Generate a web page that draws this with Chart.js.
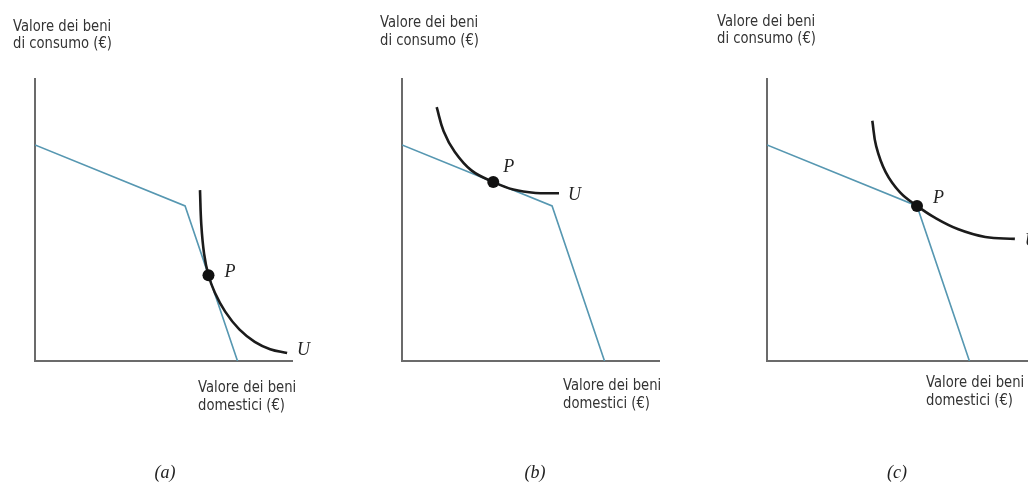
<!DOCTYPE html>
<html lang="it">
<head>
<meta charset="utf-8">
<title>Frontiera e curve di indifferenza</title>
<script src="https://cdn.jsdelivr.net/npm/chart.js@4.4.1/dist/chart.umd.min.js"></script>
<style>
  html, body { margin: 0; padding: 0; background: #fff; overflow: hidden; }
  #wrap { position: relative; width: 1028px; height: 484px; overflow: hidden; }
  canvas { position: absolute; top: 0; }
</style>
</head>
<body>
<div id="wrap">
  <canvas id="chartA" width="340" height="484" style="left:0px"></canvas>
  <canvas id="chartB" width="340" height="484" style="left:360px"></canvas>
  <canvas id="chartC" width="340" height="484" style="left:700px"></canvas>
</div>
<script>
// Frontiera delle possibilità di produzione (uguale nei tre riquadri)
const frontierX = [0, 5.84, 7.88];
const frontierY = [7.66, 5.50, 0];

// Curve di indifferenza U, una per riquadro
const curveAX = [6.42, 6.47, 6.58, 6.75, 7.00, 7.40, 7.95, 8.55, 9.15, 9.81];
const curveAY = [6.06, 4.85, 3.80, 3.04, 2.42, 1.75, 1.12, 0.68, 0.42, 0.28];
const curveBX = [1.35, 1.62, 2.05, 2.70, 3.55, 4.33, 5.20, 6.11];
const curveBY = [9.00, 8.15, 7.42, 6.76, 6.35, 6.08, 5.96, 5.95];
const curveCX = [4.10, 4.25, 4.62, 5.18, 5.84, 6.50, 7.45, 8.50, 9.65];
const curveCY = [8.52, 7.62, 6.70, 5.98, 5.50, 5.10, 4.67, 4.40, 4.33];

// Punto di ottimo P (a, b, c)
const pointX = [6.75, 3.55, 5.84];
const pointY = [3.04, 6.35, 5.50];

// Testi
const panelNames = ['a', 'b', 'c'];
const yTitle = ['Valore dei beni', 'di consumo (€)'];
const xTitle = ['Valore dei beni', 'domestici (€)'];

const AXIS_COLOR = '#6b6b6b';
const TEXT_COLOR = '#333';

// Impaginazione di ciascun riquadro (coordinate del canvas)
const panels = [
  { id: 'chartA', padLeft: 35, xMax: 10,
    yText: { x: 13, y: [31, 48] }, xText: { x: 198, y: [392, 410] }, caption: 165,
    pOff: [16, 2], uOff: [10, 2] },
  { id: 'chartB', padLeft: 42, xMax: 10,
    yText: { x: 20, y: [27, 45] }, xText: { x: 203, y: [390, 408] }, caption: 175,
    pOff: [10, -10], uOff: [9, 7] },
  { id: 'chartC', padLeft: 67, xMax: 10.2,
    yText: { x: 17, y: [26, 43] }, xText: { x: 226, y: [387, 405] }, caption: 197,
    pOff: [16, -3], uOff: [10, 7] }
];

const curves = [[curveAX, curveAY], [curveBX, curveBY], [curveCX, curveCY]];

const UNIT_X = 25.7;    // px per unità sull'asse x
const PLOT_H = 282;     // altezza dell'area del grafico
const PLOT_BOTTOM = 361;

function toPoints(xs, ys) {
    return xs.map((x, i) => ({ x: x, y: ys[i] }));
}

// Testo sans leggermente condensato
function sansText(ctx, text, x, y) {
    const sx = 0.88;
    ctx.save();
    ctx.font = '15px "DejaVu Sans", sans-serif';
    ctx.fillStyle = TEXT_COLOR;
    ctx.textBaseline = 'alphabetic';
    ctx.textAlign = 'left';
    ctx.scale(sx, 1);
    ctx.fillText(text, x / sx, y);
    ctx.restore();
}

function serifItalic(ctx, text, x, y, size, align) {
    ctx.save();
    ctx.font = 'italic ' + size + 'px "Liberation Serif", "DejaVu Serif", serif';
    ctx.fillStyle = '#222';
    ctx.textBaseline = 'alphabetic';
    ctx.textAlign = align || 'left';
    ctx.fillText(text, x, y);
    ctx.restore();
}

function makePanel(cfg, idx) {
    const canvas = document.getElementById(cfg.id);
    const cx = curves[idx][0];
    const cy = curves[idx][1];
    const plotW = Math.round(cfg.xMax * UNIT_X);

    const labelPlugin = {
        id: 'panelLabels',
        afterDraw(chart) {
            const ctx = chart.ctx;
            const xs = chart.scales.x;
            const ys = chart.scales.y;

            yTitle.forEach((t, i) => sansText(ctx, t, cfg.yText.x, cfg.yText.y[i]));
            xTitle.forEach((t, i) => sansText(ctx, t, cfg.xText.x, cfg.xText.y[i]));

            // etichetta P accanto al punto
            const px = xs.getPixelForValue(pointX[idx]);
            const py = ys.getPixelForValue(pointY[idx]);
            serifItalic(ctx, 'P', px + cfg.pOff[0], py + cfg.pOff[1], 18);

            // etichetta U alla fine della curva
            const last = cx.length - 1;
            const ux = xs.getPixelForValue(cx[last]);
            const uy = ys.getPixelForValue(cy[last]);
            serifItalic(ctx, 'U', ux + cfg.uOff[0], uy + cfg.uOff[1], 18);

            serifItalic(ctx, '(' + panelNames[idx] + ')', cfg.caption, 478, 18, 'center');
        }
    };

    new Chart(canvas, {
        type: 'scatter',
        data: {
            datasets: [
                {
                    data: [{ x: pointX[idx], y: pointY[idx] }],
                    pointRadius: 6,
                    pointBackgroundColor: '#111',
                    pointBorderWidth: 0,
                    showLine: false
                },
                {
                    data: toPoints(cx, cy),
                    showLine: true,
                    borderColor: '#1b1b1b',
                    borderWidth: 2.6,
                    pointRadius: 0,
                    tension: 0.4,
                    clip: false
                },
                {
                    data: toPoints(frontierX, frontierY),
                    showLine: true,
                    borderColor: '#5697b1',
                    borderWidth: 1.6,
                    pointRadius: 0,
                    tension: 0
                }
            ]
        },
        options: {
            responsive: false,
            animation: false,
            events: [],
            layout: {
                autoPadding: false,
                padding: {
                    left: cfg.padLeft,
                    top: PLOT_BOTTOM - PLOT_H,
                    right: canvas.width - cfg.padLeft - plotW,
                    bottom: canvas.height - PLOT_BOTTOM
                }
            },
            plugins: {
                legend: { display: false },
                tooltip: { enabled: false }
            },
            scales: {
                x: {
                    type: 'linear',
                    min: 0,
                    max: cfg.xMax,
                    ticks: { display: false },
                    grid: { display: false, drawTicks: false },
                    border: { display: true, color: AXIS_COLOR, width: 2 }
                },
                y: {
                    type: 'linear',
                    min: 0,
                    max: 10,
                    ticks: { display: false },
                    grid: { display: false, drawTicks: false },
                    border: { display: true, color: AXIS_COLOR, width: 2 }
                }
            }
        },
        plugins: [labelPlugin]
    });
}

panels.forEach((cfg, i) => makePanel(cfg, i));
</script>
</body>
</html>
